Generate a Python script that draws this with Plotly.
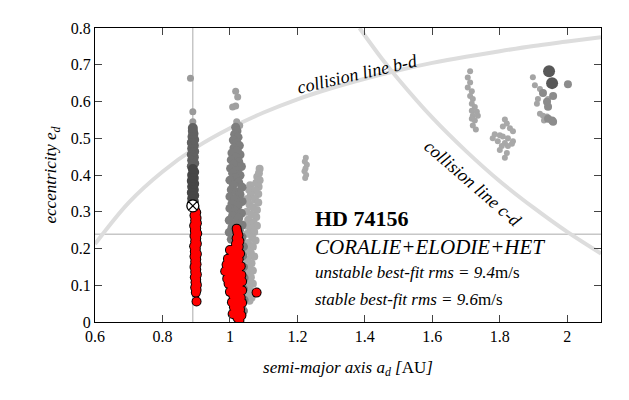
import plotly.graph_objects as go

# collision curves
bd_a = [0.6, 0.7, 0.8, 0.9, 1.0, 1.1, 1.2, 1.3, 1.4, 1.5, 1.6, 1.7, 1.8, 1.9, 2.0, 2.1]
bd_e = [0.212, 0.325, 0.409, 0.475, 0.527, 0.570, 0.606, 0.636, 0.662, 0.685, 0.705, 0.722, 0.737, 0.751, 0.763, 0.775]
cd_a = [1.384, 1.45, 1.5, 1.6, 1.7, 1.8, 1.9, 2.0, 2.1]
cd_e = [0.800, 0.717, 0.660, 0.556, 0.465, 0.383, 0.311, 0.245, 0.186]

# reference lines (best fit)
a_best = 0.890
e_best = 0.239
best_a = [0.890]
best_e = [0.316]

# (a, e) pairs per cluster
col1_dark = [(0.887, 0.322), (0.893, 0.328), (0.888, 0.336), (0.894, 0.344), (0.887, 0.352),
             (0.893, 0.360), (0.888, 0.368), (0.894, 0.376), (0.887, 0.384), (0.893, 0.392),
             (0.888, 0.400), (0.894, 0.408), (0.890, 0.416)]
col1_mid = [(0.887, 0.424), (0.894, 0.432), (0.888, 0.440), (0.893, 0.448), (0.887, 0.456),
            (0.894, 0.464), (0.888, 0.472), (0.893, 0.480), (0.887, 0.488), (0.894, 0.496),
            (0.889, 0.504), (0.892, 0.512), (0.890, 0.520), (0.890, 0.528)]
col1_top = [(0.890, 0.545), (0.890, 0.572), (0.883, 0.663)]

col2 = [(1.017, 0.530), (1.021, 0.520), (1.014, 0.511), (1.024, 0.503), (1.010, 0.495), (1.020, 0.488),
        (1.028, 0.480), (1.012, 0.474), (1.022, 0.466), (1.006, 0.460), (1.030, 0.455), (1.016, 0.448),
        (1.004, 0.441), (1.026, 0.436), (1.012, 0.429), (1.034, 0.423), (1.002, 0.418), (1.020, 0.412),
        (1.008, 0.405), (1.030, 0.399), (1.015, 0.392), (1.000, 0.386), (1.026, 0.380), (1.010, 0.373),
        (1.036, 0.367), (1.004, 0.360), (1.020, 0.354), (1.030, 0.347), (1.000, 0.341), (1.014, 0.335),
        (1.036, 0.328), (1.006, 0.322), (1.024, 0.316), (1.000, 0.309), (1.016, 0.302), (1.034, 0.296),
        (1.008, 0.290), (1.026, 0.283), (0.998, 0.277), (1.018, 0.270), (1.036, 0.264), (1.006, 0.257),
        (1.028, 0.250), (0.998, 0.244), (1.014, 0.238), (1.036, 0.231), (1.004, 0.225), (1.022, 0.218),
        (1.040, 0.205), (1.038, 0.180), (1.040, 0.150), (1.042, 0.120), (1.040, 0.090), (1.042, 0.060),
        (1.040, 0.030)]
col2_top = [(1.017, 0.628), (1.023, 0.612), (1.017, 0.588), (1.008, 0.585), (1.029, 0.535), (1.020, 0.545)]

col3 = [(1.088, 0.417), (1.086, 0.405), (1.081, 0.395), (1.088, 0.386), (1.078, 0.378), (1.060, 0.372),
        (1.085, 0.368), (1.057, 0.360), (1.076, 0.358), (1.084, 0.348), (1.062, 0.345), (1.052, 0.335),
        (1.074, 0.334), (1.084, 0.325), (1.058, 0.320), (1.068, 0.312), (1.080, 0.305), (1.050, 0.300),
        (1.064, 0.292), (1.078, 0.286), (1.054, 0.278), (1.070, 0.270), (1.050, 0.262), (1.080, 0.262),
        (1.062, 0.254), (1.072, 0.245), (1.052, 0.240), (1.066, 0.230), (1.076, 0.222), (1.054, 0.215),
        (1.068, 0.205), (1.050, 0.196), (1.062, 0.188), (1.072, 0.178), (1.052, 0.170), (1.064, 0.160),
        (1.056, 0.150), (1.068, 0.140), (1.050, 0.132), (1.062, 0.122), (1.055, 0.112), (1.068, 0.104),
        (1.050, 0.095), (1.060, 0.086), (1.056, 0.076), (1.064, 0.066), (1.058, 0.058)]

isl_122 = [(1.225, 0.447), (1.222, 0.437), (1.228, 0.428), (1.224, 0.418), (1.221, 0.410),
           (1.226, 0.400), (1.223, 0.392)]
isl_172 = [(1.712, 0.682), (1.705, 0.665), (1.712, 0.652), (1.705, 0.638), (1.717, 0.628), (1.712, 0.615),
           (1.720, 0.607), (1.717, 0.594), (1.726, 0.585), (1.717, 0.575), (1.732, 0.572), (1.720, 0.561),
           (1.735, 0.561), (1.717, 0.553), (1.726, 0.548), (1.720, 0.535), (1.729, 0.524)]
isl_182 = [(1.815, 0.551), (1.821, 0.540), (1.809, 0.532), (1.830, 0.527), (1.839, 0.519), (1.785, 0.511),
           (1.800, 0.508), (1.809, 0.505), (1.824, 0.500), (1.779, 0.500), (1.839, 0.492), (1.794, 0.492),
           (1.815, 0.487), (1.806, 0.479), (1.824, 0.479), (1.800, 0.468), (1.821, 0.460), (1.815, 0.447),
           (1.836, 0.485)]
isl_195_light = [(1.898, 0.666), (1.904, 0.644), (1.919, 0.634), (1.913, 0.607), (1.910, 0.594),
                 (1.919, 0.567), (1.928, 0.561), (1.940, 0.559), (1.931, 0.548), (1.943, 0.607)]
isl_195_mid = [(2.002, 0.647), (1.928, 0.623), (1.958, 0.615), (1.943, 0.586), (1.940, 0.599),
               (1.943, 0.553), (1.955, 0.548), (1.958, 0.545)]
isl_195_dark = [(1.946, 0.682), (1.955, 0.650)]

# stable solutions (red)
stable1 = [(0.896, 0.305), (0.900, 0.298), (0.895, 0.290), (0.901, 0.283), (0.897, 0.276), (0.902, 0.269),
           (0.894, 0.262), (0.900, 0.255), (0.896, 0.248), (0.903, 0.241), (0.895, 0.234), (0.900, 0.227),
           (0.897, 0.220), (0.902, 0.213), (0.894, 0.206), (0.899, 0.199), (0.896, 0.192), (0.902, 0.185),
           (0.895, 0.178), (0.900, 0.171), (0.897, 0.164), (0.901, 0.157), (0.895, 0.150), (0.900, 0.143),
           (0.897, 0.136), (0.902, 0.129), (0.896, 0.122), (0.900, 0.115), (0.898, 0.108), (0.902, 0.101),
           (0.897, 0.094), (0.901, 0.087), (0.899, 0.080), (0.901, 0.056)]
stable2 = [(1.020, 0.254), (1.022, 0.245), (1.025, 0.236), (1.020, 0.228), (1.028, 0.220), (1.018, 0.212),
           (1.026, 0.205), (1.012, 0.198), (1.022, 0.192), (1.000, 0.196), (1.030, 0.186), (1.008, 0.184),
           (1.016, 0.178), (0.994, 0.172), (1.026, 0.170), (1.004, 0.164), (1.020, 0.160), (0.990, 0.156),
           (1.032, 0.152), (1.010, 0.150), (0.998, 0.144), (1.024, 0.142), (0.986, 0.138), (1.016, 0.134),
           (1.034, 0.128), (1.002, 0.126), (0.992, 0.118), (1.020, 0.118), (1.010, 0.110), (1.036, 0.110),
           (0.996, 0.104), (1.026, 0.100), (1.006, 0.094), (1.018, 0.088), (1.036, 0.086), (1.000, 0.082),
           (1.026, 0.076), (1.010, 0.072), (1.032, 0.066), (1.018, 0.060), (1.006, 0.054), (1.036, 0.052),
           (1.024, 0.046), (1.012, 0.040), (1.030, 0.034), (1.018, 0.028), (1.008, 0.022), (1.034, 0.018),
           (1.022, 0.012), (1.028, 0.004), (1.079, 0.080)]

fig = go.Figure()


def curve(a, e):
    fig.add_trace(go.Scatter(x=a, y=e, mode='lines', line=dict(color='#dddddd', width=4, shape='spline'),
                             hoverinfo='skip', showlegend=False))


def dots(pts, color, size):
    a, e = zip(*pts)
    fig.add_trace(go.Scatter(x=list(a), y=list(e), mode='markers', showlegend=False,
                             marker=dict(color=color, size=size, line=dict(width=0))))


curve(bd_a, bd_e)
curve(cd_a, cd_e)

dots(col3, '#aaaaaa', 8)
dots(isl_122, '#aaaaaa', 6)
dots(isl_172, '#a6a6a6', 6)
dots(isl_182, '#a8a8a8', 6)
dots(isl_195_light, '#a4a4a4', 6)
dots(isl_195_mid, '#8c8c8c', 8)
dots(isl_195_dark, '#585858', 12)
dots(col2_top, '#a0a0a0', 7)
dots(col2, '#7e7e7e', 9)
dots(col1_top, '#9a9a9a', 7)
dots(col1_mid, '#616161', 10)
dots(col1_dark, '#464646', 10)

# red stable fits: black rim underneath, red fill on top so rims only show at the blob edge
for pts in (stable1, stable2):
    dots(pts, 'black', 10)
for pts in (stable1, stable2):
    dots(pts, '#ff0000', 8)

fig.add_trace(go.Scatter(x=best_a, y=best_e, mode='markers', showlegend=False,
                         marker=dict(symbol='circle-x', color='white', size=12,
                                     line=dict(color='black', width=1.3))))

fig.add_shape(type='line', xref='x', yref='paper', x0=a_best, x1=a_best, y0=0, y1=1,
              line=dict(color='#aaaaaa', width=1), layer='below')
fig.add_shape(type='line', xref='paper', yref='y', x0=0, x1=1, y0=e_best, y1=e_best,
              line=dict(color='#aaaaaa', width=1), layer='below')

serif = 'Liberation Serif'
notes = [
    (1.379, 0.674, '<i>collision line b-d</i>', 18, -13, 'center'),
    (1.722, 0.376, '<i>collision line c-d</i>', 18, 41, 'center'),
    (1.245, 0.283, '<b>HD 74156</b>', 22, 0, 'left'),
    (1.245, 0.203, '<i>CORALIE+ELODIE+HET</i>', 21, 0, 'left'),
    (1.245, 0.134, '<i>unstable best-fit rms = 9.4</i>m/s', 17, 0, 'left'),
    (1.245, 0.061, '<i>stable best-fit rms = 9.6</i>m/s', 17, 0, 'left'),
]
for x, y, txt, sz, ang, anchor in notes:
    fig.add_annotation(x=x, y=y, text=txt, showarrow=False, textangle=ang, xanchor=anchor,
                       yanchor='middle', font=dict(family=serif, size=sz, color='black'))

fig.update_xaxes(range=[0.6, 2.1], dtick=0.2, tick0=0.6, ticks='inside', ticklen=7,
                 showline=True, mirror='ticks', linecolor='black', linewidth=1,
                 showgrid=False, zeroline=False,
                 title=dict(text='<i>semi-major axis a<sub>d</sub> [</i>AU<i>]</i>', standoff=16,
                            font=dict(family=serif, size=17)))
fig.update_yaxes(range=[0, 0.8], dtick=0.1, ticks='inside', ticklen=7,
                 showline=True, mirror='ticks', linecolor='black', linewidth=1,
                 showgrid=False, zeroline=False,
                 title=dict(text='<i>eccentricity e<sub>d</sub></i>', standoff=9,
                            font=dict(family=serif, size=17)))

# the page body adds an 8px offset, so margins are shifted to land the frame where the reference has it
fig.update_layout(
    width=629, height=400,
    margin=dict(l=87, r=36, t=15, b=86),
    plot_bgcolor='white', paper_bgcolor='white',
    font=dict(family=serif, size=16, color='black'),
)

fig.write_html("out.html")
